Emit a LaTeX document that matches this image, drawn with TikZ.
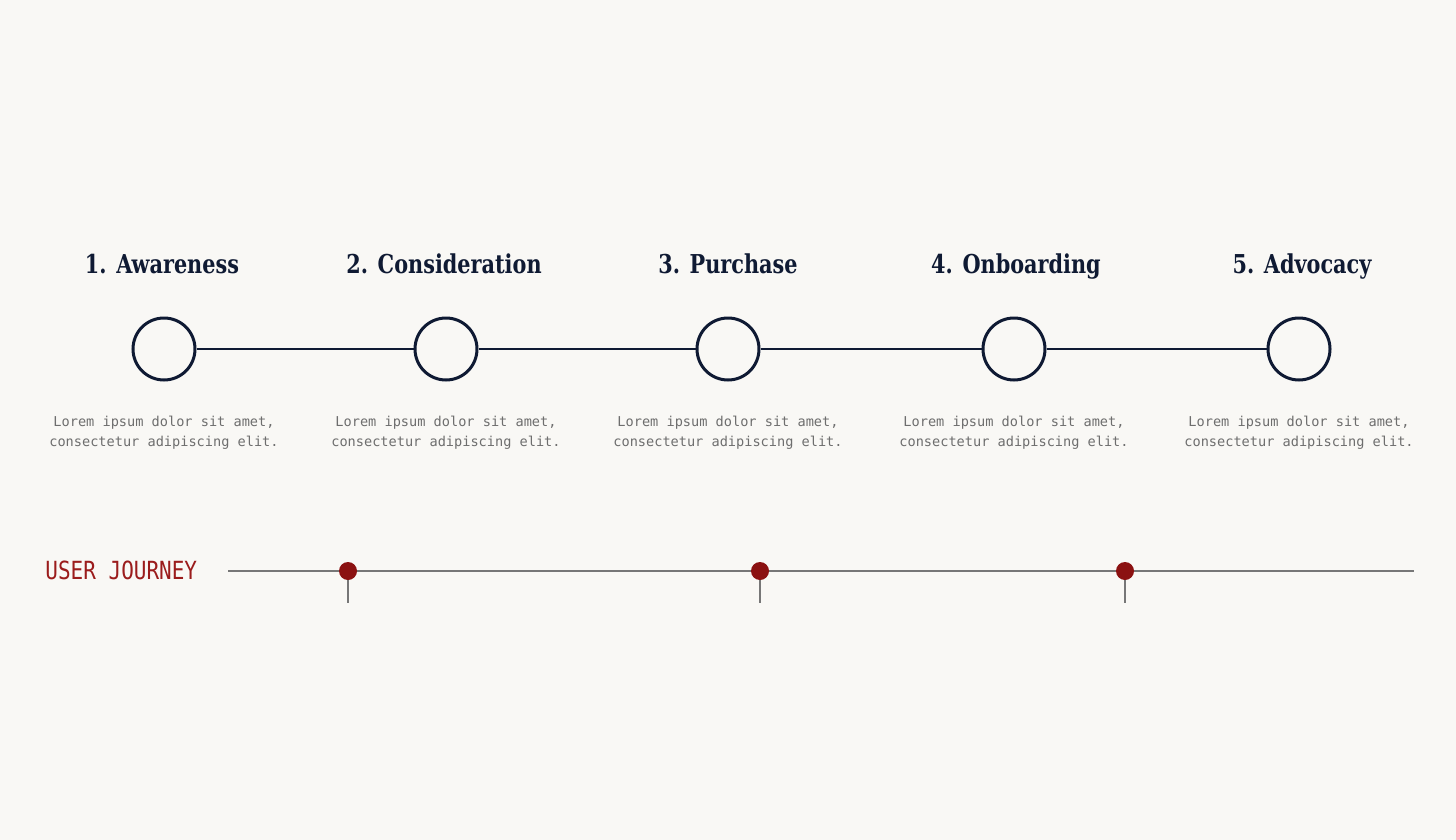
\documentclass[tikz,border=0pt]{standalone}
\usepackage{fontspec}
\setmainfont{DejaVu Serif}
\setmonofont{DejaVu Sans Mono}
\definecolor{bg}{HTML}{F9F8F5}
\definecolor{navy}{HTML}{0F1A33}
\definecolor{descgray}{HTML}{6E6E6E}
\definecolor{jred}{HTML}{9B1C1C}
\definecolor{dotred}{HTML}{8B1111}
\definecolor{linegray}{HTML}{777777}
\newcommand\condensed[2]{\scalebox{#1}[1]{#2}}
\begin{document}
\begin{tikzpicture}[x=0.5pt,y=-0.5pt,
  stage/.style={circle,draw=navy,line width=1.5pt,minimum size=31pt,inner sep=0pt,fill=bg},
  title/.style={font=\fontsize{13}{15}\selectfont\bfseries,text=navy,anchor=base},
  desc/.style={font=\ttfamily\fontsize{6.8}{10}\selectfont,text=descgray,align=center,anchor=base},
  conn/.style={draw=navy,line width=1pt},
  pin/.style={circle,fill=dotred,minimum size=9pt,inner sep=0pt},
  axis/.style={draw=linegray,line width=1pt},
  tick/.style={draw=linegray,line width=0.7pt}]
\fill[bg] (0,0) rectangle (1456,840);
\useasboundingbox (0,0) rectangle (1456,840);
% stages
\foreach \i/\x/\t/\tx in {1/164/1. Awareness/162,2/446/2. Consideration/444,3/728/3. Purchase/728,4/1014/4. Onboarding/1016,5/1299/5. Advocacy/1302}{
  \node[title] (t\i) at (\tx,273) {\condensed{0.8}{\t}};
  \node[desc] (d\i) at (\x,446) {Lorem ipsum dolor sit amet,\\consectetur adipiscing elit.};
}
\foreach \i/\x in {1/164,2/446,3/728,4/1014,5/1299}{
  \node[stage] (c\i) at (\x,349) {};
}
\foreach \a/\b in {1/2,2/3,3/4,4/5}{
  \path[conn] (c\a) -- (c\b);
}
% journey
\node[font=\ttfamily\fontsize{12.5}{14}\selectfont,text=jred,anchor=base west,inner sep=0pt] (uj) at (45,579) {\condensed{0.84}{USER JOURNEY}};
\coordinate (ax0) at (228,571);
\coordinate (ax1) at (1414,571);
\path[axis] (ax0) -- (ax1);
\foreach \i/\x in {1/348,2/760,3/1125}{
  \coordinate (k\i) at (\x,603);
  \node[pin] (p\i) at (\x,571) {};
  \path[tick] (p\i.south) -- (k\i);
}
\end{tikzpicture}
\end{document}
